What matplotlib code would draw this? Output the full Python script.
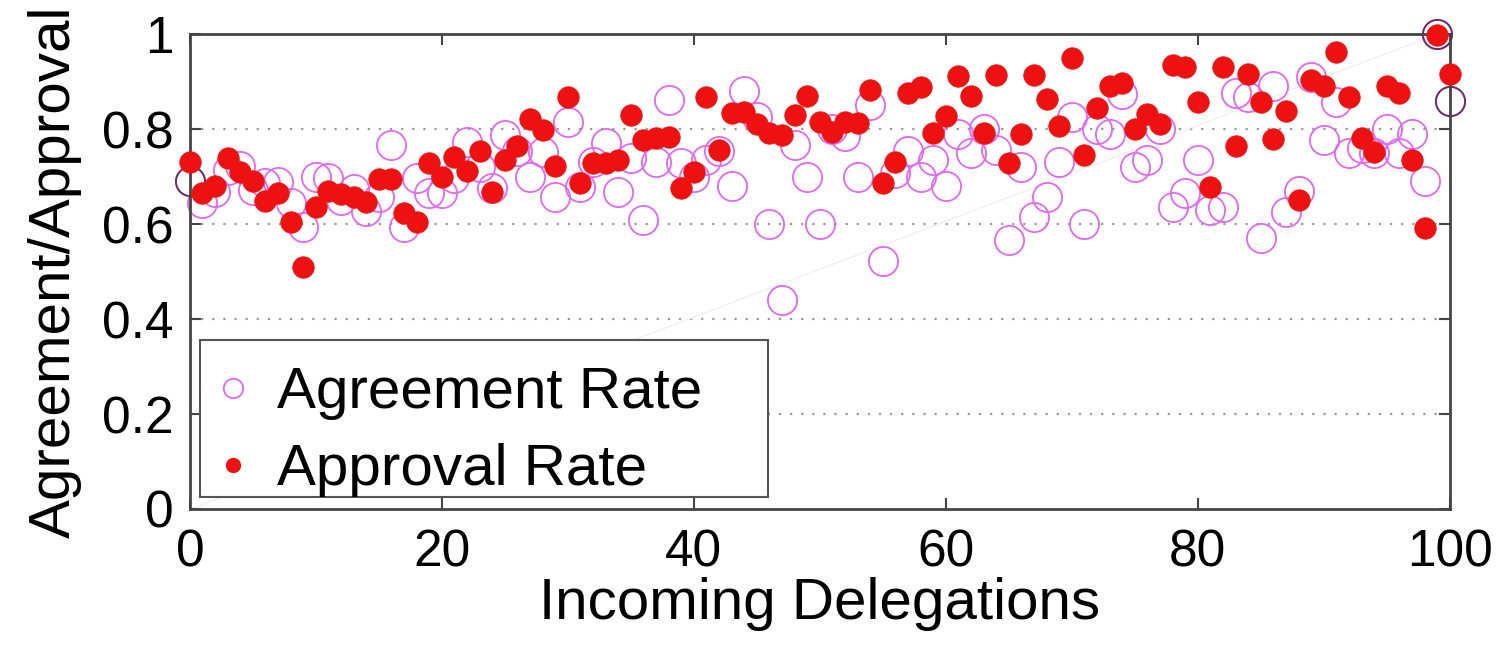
import matplotlib
matplotlib.use("Agg")
import matplotlib.pyplot as plt
from matplotlib.lines import Line2D
from matplotlib.patches import Rectangle

plt.rcParams['font.family'] = ['Liberation Sans', 'DejaVu Sans']

delegations = list(range(0, 101))

agreement = [
    0.69, 0.645, 0.668, 0.714, 0.722, 0.672, 0.686, 0.688, 0.645, 0.594,
    0.70, 0.697, 0.65, 0.675, 0.628, 0.657, 0.766, 0.594, 0.697, 0.665,
    0.665, 0.697, 0.773, 0.72, 0.676, 0.787, 0.755, 0.70, 0.752, 0.657,
    0.815, 0.678, 0.73, 0.77, 0.667, 0.74, 0.608, 0.73, 0.861, 0.728,
    0.70, 0.735, 0.755, 0.68, 0.88, 0.826, 0.60, 0.44, 0.766, 0.70,
    0.60, 0.80, 0.785, 0.70, 0.85, 0.523, 0.707, 0.755, 0.70, 0.735,
    0.68, 0.79, 0.75, 0.80, 0.756, 0.566, 0.72, 0.615, 0.657, 0.73,
    0.826, 0.60, 0.80, 0.79, 0.875, 0.72, 0.735, 0.80, 0.635, 0.665,
    0.735, 0.63, 0.636, 0.876, 0.868, 0.57, 0.89, 0.625, 0.67, 0.91,
    0.777, 0.857, 0.75, 0.76, 0.75, 0.80, 0.75, 0.79, 0.69, 1.0,
    0.86,
]

approval = [
    0.73, 0.665, 0.68, 0.739, 0.709, 0.69, 0.648, 0.665, 0.604, 0.51,
    0.636, 0.67, 0.663, 0.657, 0.646, 0.695, 0.695, 0.623, 0.604, 0.728,
    0.699, 0.741, 0.712, 0.754, 0.667, 0.735, 0.764, 0.821, 0.798, 0.722,
    0.867, 0.686, 0.728, 0.728, 0.735, 0.829, 0.777, 0.781, 0.783, 0.676,
    0.709, 0.867, 0.756, 0.834, 0.836, 0.811, 0.792, 0.787, 0.829, 0.869,
    0.815, 0.794, 0.815, 0.813, 0.882, 0.686, 0.731, 0.876, 0.888, 0.792,
    0.827, 0.912, 0.869, 0.792, 0.914, 0.728, 0.789, 0.914, 0.863, 0.806,
    0.949, 0.745, 0.844, 0.891, 0.897, 0.80, 0.832, 0.811, 0.935, 0.931,
    0.857, 0.678, 0.931, 0.764, 0.916, 0.857, 0.779, 0.838, 0.65, 0.903,
    0.891, 0.962, 0.867, 0.781, 0.752, 0.891, 0.876, 0.735, 0.592, 0.998,
    0.916,
]

edge_points = [0, 99, 100]

x_ticks = [0, 20, 40, 60, 80, 100]
y_ticks = [0, 0.2, 0.4, 0.6, 0.8, 1.0]
y_tick_labels = ['0', '0.2', '0.4', '0.6', '0.8', '1']

fig = plt.figure(figsize=(15.07, 6.58), dpi=100)
ax = fig.add_axes([0.126, 0.2265, 0.836, 0.7215])

magenta = '#e068f2'
red = '#ee1111'

# faint diagonal reference line
ax.plot([0, 99], [0, 1], color='#f0f0f0', lw=1.0, zorder=1)

ax.plot(delegations, agreement, linestyle='none', marker='o', ms=21,
        mfc='none', mec=magenta, mew=1.3, zorder=2, clip_on=False)
ax.plot([delegations[i] for i in edge_points], [agreement[i] for i in edge_points],
        linestyle='none', marker='o', ms=21, mfc='none', mec='#6a2a60', mew=1.3,
        zorder=2.5, clip_on=False)
ax.plot(delegations, approval, linestyle='none', marker='o', ms=15.5,
        mfc=red, mec=red, mew=0.5, zorder=3, clip_on=False)

ax.set_xlim(0, 100)
ax.set_ylim(0, 1)
ax.set_xticks(x_ticks)
ax.set_yticks(y_ticks)
ax.set_yticklabels(y_tick_labels)
ax.tick_params(axis='both', direction='in', length=8, width=1.5, labelsize=37,
               top=True, right=True, color='#444444', pad=12)
ax.tick_params(axis='x', pad=14)
for s in ax.spines.values():
    s.set_color('#444444')
    s.set_linewidth(2)

for yv in y_ticks[1:-1]:
    ax.axhline(yv, color='#999999', lw=1.6, linestyle=(0, (1, 4)), zorder=0.5)

ax.set_xlabel('Incoming Delegations', fontsize=42, labelpad=0)
ax.set_ylabel('Agreement/Approval', fontsize=42, labelpad=14)

# legend frame (fixed size, as in the original)
frame = Rectangle((0.008, 0.025), 0.451, 0.331, transform=ax.transAxes,
                  facecolor='white', edgecolor='#555555', lw=1.5, zorder=4)
ax.add_patch(frame)

handles = [
    Line2D([], [], linestyle='none', marker='o', ms=14, mfc='none', mec=magenta, mew=1.3),
    Line2D([], [], linestyle='none', marker='o', ms=10, mfc=red, mec=red),
]
leg = ax.legend(handles, ['Agreement Rate', 'Approval Rate'], loc='lower left',
                bbox_to_anchor=(0.016, 0.012), borderaxespad=0, fontsize=42,
                frameon=False, handlelength=0.6, handletextpad=0.45,
                borderpad=0.1, labelspacing=0.4)
leg.set_zorder(5)

fig.savefig('out.png', dpi=100)
